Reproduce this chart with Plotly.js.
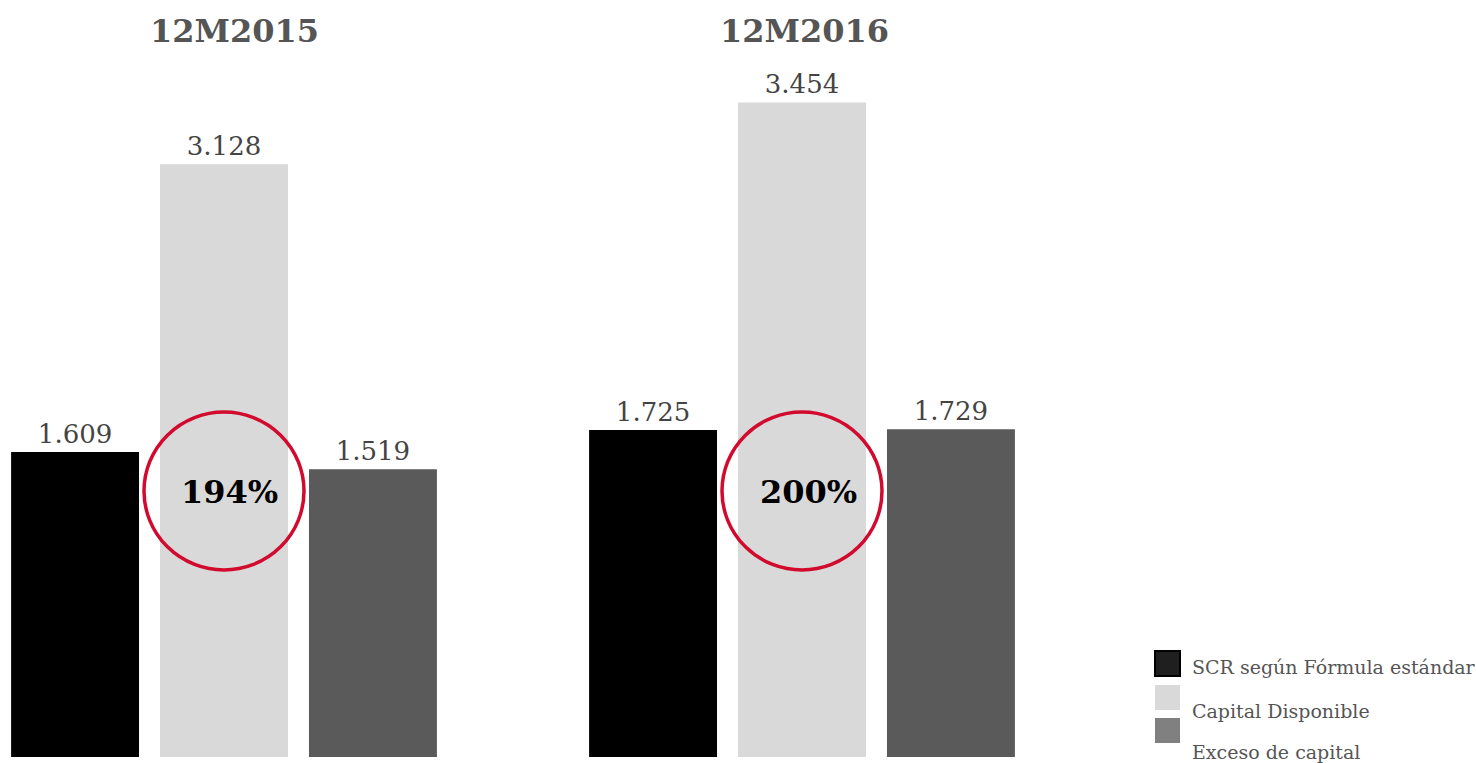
<!DOCTYPE html>
<html>
<head>
<meta charset="utf-8">
<script src="https://cdn.plot.ly/plotly-3.0.1.min.js"></script>
<style>html,body{margin:0;padding:0;background:#fff;}#chart{width:1476px;height:763px;}</style>
</head>
<body>
<div id="chart"></div>
<script>
// ---- data ----
const categories = ['12M2015', '12M2016'];
const seriesNames = ['SCR según Fórmula estándar', 'Capital Disponible', 'Exceso de capital'];
const scrValues = [1609, 1725];
const capitalValues = [3128, 3454];
const excesoValues = [1519, 1729];
const ratioLabels = ['194%', '200%'];

// ---- styles ----
const barColors = ['#000000', '#d9d9d9', '#5a5a5a'];
const legendColors = ['#1f1f1f', '#d9d9d9', '#808080'];
const W = 1476, H = 763, B = 6;
const plotH = H - B;
const fmt = v => (v / 1000).toFixed(3);
const serif = 'DejaVu Serif, serif';

const allValues = [scrValues, capitalValues, excesoValues];
const traces = allValues.map((vals, i) => ({
  type: 'bar',
  name: seriesNames[i],
  x: categories,
  y: vals,
  marker: { color: barColors[i] },
  text: vals.map(fmt),
  textposition: 'outside',
  textfont: { family: serif, size: 26, color: '#444444' },
  cliponaxis: false,
  hoverinfo: 'skip',
  showlegend: false
}));

const px2x = p => p / W;
const py2y = p => (plotH - p) / plotH;

const shapes = [];
const annotations = [];
const ratioShift = [5, 6];
const titleShift = [10, 2];

// circles around ratio + ratio text
categories.forEach((c, i) => {
  shapes.push({
    type: 'circle', xref: 'x', yref: 'paper',
    xsizemode: 'pixel', xanchor: i, x0: -80, x1: 80,
    y0: py2y(570), y1: py2y(412),
    line: { color: '#d20a2e', width: 3.5 }, fillcolor: 'rgba(0,0,0,0)'
  });
  annotations.push({
    x: c, xref: 'x', y: py2y(492), yref: 'paper', yanchor: 'middle', xshift: ratioShift[i],
    text: '<b>' + ratioLabels[i] + '</b>', showarrow: false,
    font: { family: serif, size: 32, color: '#000000' }
  });
  annotations.push({
    x: c, xref: 'x', y: py2y(31), yref: 'paper', yanchor: 'middle', xshift: titleShift[i],
    text: '<b>' + c + '</b>', showarrow: false,
    font: { family: serif, size: 32, color: '#555555' }
  });
});

// custom legend
const sqTop = [651, 685, 718];
const txtY = [667, 711, 752];
seriesNames.forEach((n, i) => {
  shapes.push({
    type: 'rect', xref: 'paper', yref: 'paper',
    x0: px2x(1155), x1: px2x(1180), y0: py2y(sqTop[i] + 25), y1: py2y(sqTop[i]),
    fillcolor: legendColors[i],
    line: { color: i === 0 ? '#000000' : legendColors[i], width: i === 0 ? 2 : 0 }
  });
  annotations.push({
    x: px2x(1190), xref: 'paper', xanchor: 'left',
    y: py2y(txtY[i]), yref: 'paper', yanchor: 'middle',
    text: n, showarrow: false,
    font: { family: serif, size: 19, color: '#555555' }
  });
});

const catSpacing = 578, cat0 = 224;
const layout = {
  width: W, height: H,
  margin: { l: 0, r: 0, t: 0, b: B, pad: 0 },
  paper_bgcolor: '#ffffff', plot_bgcolor: '#ffffff',
  barmode: 'group', bargap: 0.227, bargroupgap: 0.141,
  xaxis: { type: 'category', range: [-cat0 / catSpacing, (W - cat0) / catSpacing],
           showticklabels: false, showgrid: false, zeroline: false, showline: false, ticks: '' },
  yaxis: { range: [0, plotH / 0.1895], visible: false, showgrid: false, zeroline: false },
  showlegend: false,
  shapes: shapes,
  annotations: annotations
};

Plotly.newPlot('chart', traces, layout, { displayModeBar: false, staticPlot: true });
</script>
</body>
</html>
